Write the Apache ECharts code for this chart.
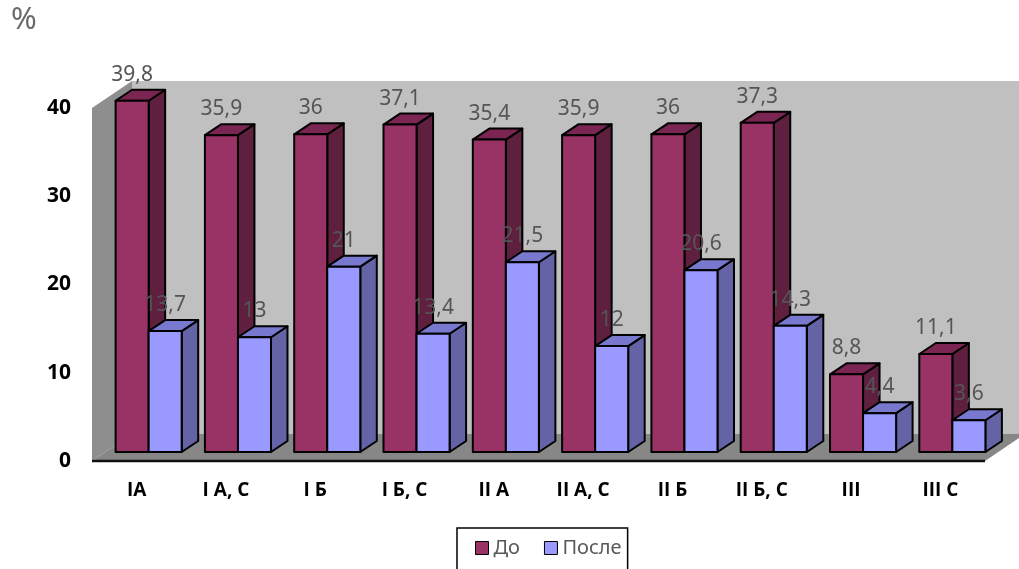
<!DOCTYPE html>
<html>
<head>
<meta charset="utf-8">
<script src="https://cdn.jsdelivr.net/npm/echarts@6/dist/echarts.min.js"></script>
<style>
  html, body { margin: 0; padding: 0; background: #ffffff; }
  #chart { width: 1019px; height: 569px; }
</style>
</head>
<body>
<div id="chart"></div>
<script>
// Groups on the category axis
const categories = ['IА', 'I А, С', 'I Б', 'I Б, С', 'II А', 'II А, С', 'II Б', 'II Б, С', 'III', 'III С'];
// Share (%) before and after
const beforeValues = [39.8, 35.9, 36, 37.1, 35.4, 35.9, 36, 37.3, 8.8, 11.1];
const afterValues = [13.7, 13, 21, 13.4, 21.5, 12, 20.6, 14.3, 4.4, 3.6];
// Value axis range and step
const yMin = 0;
const yMax = 40;
const yStep = 10;
const seriesNames = ['До', 'После'];
const unitLabel = '%';

// Oblique projection for the pseudo-3D look
const WALL_DX = 40, WALL_DY = 27;   // depth of the floor / side wall
const BOX_DX = 16.5, BOX_DY = 11;   // depth of a single bar
const BAR_RATIO = 0.37;             // bar width as a share of the band

const LABEL_FONT = '"Noto Sans", "DejaVu Sans", sans-serif';
const AXIS_FONT = '"Open Sans", "Noto Sans", sans-serif';

const palette = {
  before: { front: '#993366', top: '#7a2552', side: '#5f1f3e' },
  after:  { front: '#9999ff', top: '#7878cf', side: '#6363a6' }
};

const fmt = v => String(v).replace('.', ',');

// Back wall, side wall and floor, built on the front grid's rectangle
function renderWalls(params, api) {
  const r = params.coordSys;
  const x0 = r.x, x1 = r.x + r.width, yT = r.y, yB = r.y + r.height;
  return {
    type: 'group',
    children: [
      { type: 'rect', shape: { x: x0 + WALL_DX, y: yT - WALL_DY, width: r.width, height: r.height },
        style: { fill: '#c0c0c0' } },
      { type: 'polygon', shape: { points: [[x0, yT], [x0 + WALL_DX, yT - WALL_DY], [x0 + WALL_DX, yB - WALL_DY], [x0, yB]] },
        style: { fill: '#8e8e8e' } },
      { type: 'polygon', shape: { points: [[x0, yB], [x1, yB], [x1 + WALL_DX, yB - WALL_DY], [x0 + WALL_DX, yB - WALL_DY]] },
        style: { fill: '#878787' } },
      { type: 'line', shape: { x1: x0, y1: yB, x2: x1, y2: yB },
        style: { stroke: '#111111', lineWidth: 2.5 } }
    ]
  };
}

// One extruded bar with its value label
function boxRenderer(side, colors) {
  return function (params, api) {
    const idx = api.value(0);
    const v = api.value(1);
    const base = api.coord([idx, 0]);
    const top = api.coord([idx, v]);
    const band = api.size([1, 0])[0];
    const w = band * BAR_RATIO;
    const x0 = side < 0 ? base[0] - w : base[0];
    const x1 = x0 + w;
    const yT = top[1], yB = base[1];
    const stroke = { stroke: '#000000', lineWidth: 2, lineJoin: 'round' };
    return {
      type: 'group',
      children: [
        { type: 'polygon',
          shape: { points: [[x1, yT], [x1 + BOX_DX, yT - BOX_DY], [x1 + BOX_DX, yB - BOX_DY], [x1, yB]] },
          style: Object.assign({ fill: colors.side }, stroke) },
        { type: 'polygon',
          shape: { points: [[x0, yT], [x1, yT], [x1 + BOX_DX, yT - BOX_DY], [x0 + BOX_DX, yT - BOX_DY]] },
          style: Object.assign({ fill: colors.top }, stroke) },
        { type: 'rect', shape: { x: x0, y: yT, width: w, height: yB - yT },
          style: Object.assign({ fill: colors.front }, stroke) },
        { type: 'text', z2: 10,
          style: { text: fmt(v), x: x0 + w / 2, y: yT - 26, align: 'center', verticalAlign: 'middle',
                   fontSize: 21, fontFamily: LABEL_FONT, fill: '#555555' } }
      ]
    };
  };
}

const chart = echarts.init(document.getElementById('chart'), null, { renderer: 'canvas' });

chart.setOption({
  backgroundColor: '#ffffff',
  animation: false,
  grid: [
    // front plane: axis labels, walls and floor
    { left: 92, width: 893, top: 108, height: 353 },
    // plane of the bars, set back into the depth
    { left: 104, width: 893, top: 99, height: 353 }
  ],
  xAxis: [
    { type: 'category', gridIndex: 0, data: categories,
      axisLine: { show: false }, axisTick: { show: false },
      axisLabel: { margin: 20, fontSize: 19, fontWeight: 'bold', color: '#000000', fontFamily: AXIS_FONT } },
    { type: 'category', gridIndex: 1, data: categories, show: false }
  ],
  yAxis: [
    { type: 'value', gridIndex: 0, min: yMin, max: yMax, interval: yStep,
      axisLine: { show: false }, axisTick: { show: false }, splitLine: { show: false },
      axisLabel: { margin: 21, fontSize: 21, fontWeight: 'bold', color: '#000000', fontFamily: AXIS_FONT } },
    { type: 'value', gridIndex: 1, min: yMin, max: yMax, interval: yStep, show: false }
  ],
  legend: {
    data: seriesNames,
    left: 457, top: 528,
    icon: 'rect', itemWidth: 13, itemHeight: 13, itemGap: 24,
    padding: [10, 6, 40, 18],
    borderColor: '#000000', borderWidth: 1.5,
    itemStyle: { borderColor: '#000000', borderWidth: 1 },
    textStyle: { fontSize: 20, color: '#595959', fontFamily: LABEL_FONT }
  },
  graphic: [
    { type: 'text', left: 11, top: 5,
      style: { text: unitLabel, fontSize: 31, fontFamily: LABEL_FONT, fill: '#6a6a6a' } }
  ],
  series: [
    { type: 'custom', name: 'walls', xAxisIndex: 0, yAxisIndex: 0, z: 1, silent: true,
      renderItem: renderWalls, data: [[0, 0]] },
    { type: 'custom', name: seriesNames[0], xAxisIndex: 1, yAxisIndex: 1, z: 2,
      itemStyle: { color: palette.before.front },
      encode: { x: 0, y: 1 },
      renderItem: boxRenderer(-1, palette.before),
      data: beforeValues.map((v, i) => [i, v]) },
    { type: 'custom', name: seriesNames[1], xAxisIndex: 1, yAxisIndex: 1, z: 3,
      itemStyle: { color: palette.after.front },
      encode: { x: 0, y: 1 },
      renderItem: boxRenderer(1, palette.after),
      data: afterValues.map((v, i) => [i, v]) }
  ]
});
</script>
</body>
</html>
